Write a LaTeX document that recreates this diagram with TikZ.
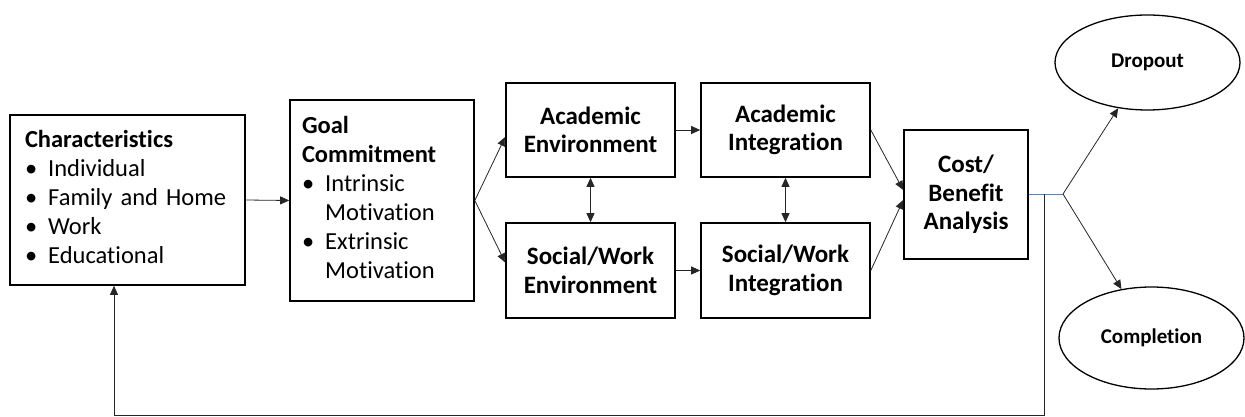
\documentclass[tikz,border=0pt]{standalone}
\usepackage{fontspec}
\setmainfont{Carlito}[Ligatures=NoCommon]
\usetikzlibrary{shapes.geometric,arrows.meta}
\begin{document}
\begin{tikzpicture}[x=1pt,y=-1pt,
  box/.style={draw, line width=1.6pt, inner sep=0pt, align=center,
    font=\fontsize{25}{28.5}\selectfont\bfseries},
  listbox/.style={draw, line width=1.6pt, inner ysep=0pt, align=left,
    font=\fontsize{24.5}{29}\selectfont},
  oval/.style={draw, ellipse, line width=1.3pt, inner sep=0pt,
    font=\fontsize{21}{23}\selectfont\bfseries},
  conn/.style={line width=0.8pt, draw=black!85},
  arr/.style={conn, -{Triangle[length=9pt,width=8pt]}},
  darr/.style={conn, {Triangle[length=9pt,width=8pt]}-{Triangle[length=9pt,width=8pt]}}
]
\useasboundingbox (0,0) rectangle (1245,417);

\node[listbox, minimum width=235pt, minimum height=170pt, text width=205pt, inner xsep=15pt] (char) at (127.5,200)
{\begin{tabular}{@{}l@{\hspace{11pt}}l@{}}
\multicolumn{2}{@{}l@{}}{\textbf{Characteristics}}\\
\textbullet & Individual\\
\textbullet & Family and Home\\
\textbullet & Work\\
\textbullet & Educational
\end{tabular}};

\node[listbox, minimum width=184pt, minimum height=201pt, text width=160pt, inner xsep=12pt] (goal) at (382,200.5)
{\begin{tabular}{@{}l@{\hspace{11pt}}l@{}}
\multicolumn{2}{@{}l@{}}{\textbf{Goal}}\\
\multicolumn{2}{@{}l@{}}{\textbf{Commitment}}\\
\textbullet & Intrinsic\\
 & Motivation\\
\textbullet & Extrinsic\\
 & Motivation
\end{tabular}};

\node[box, minimum width=169pt, minimum height=94pt] (ae) at (590.5,130) {Academic\\Environment};
\node[box, minimum width=169pt, minimum height=94pt] (ai) at (785.5,130) {Academic\\Integration};
\node[box, minimum width=169pt, minimum height=95pt] (swe) at (590.5,270.5) {Social/Work\\Environment};
\node[box, minimum width=169pt, minimum height=95pt] (swi) at (785.5,270.5) {Social/Work\\Integration};
\node[box, minimum width=124pt, minimum height=129pt] (cb) at (966,194.5) {Cost/\\Benefit\\Analysis};

\node[oval, minimum width=185pt, minimum height=95pt] (drop) at (1147.5,62.5) {Dropout};
\node[oval, minimum width=185pt, minimum height=102pt] (comp) at (1151.5,338) {Completion};

\coordinate (fork) at (1063,194);
\coordinate (fb) at (1044,194);
\coordinate (fbb) at (1044,415);
\coordinate (fbl) at (114,415);

\draw[arr] (char.east) -- (goal.west);
\draw[arr] (goal.east) -- ([yshift=-7pt]ae.west);
\draw[arr] (goal.east) -- ([yshift=8pt]swe.west);
\draw[arr] (ae.east) -- (ai.west);
\draw[arr] (swe.east) -- (swi.west);
\draw[darr] (ae.south) -- (swe.north);
\draw[darr] (ai.south) -- (swi.north);
\draw[arr] (ai.east) -- ([yshift=4.5pt]cb.west);
\draw[arr] (swi.east) -- ([yshift=-5.5pt]cb.west);
\draw[line width=0.8pt, draw=blue!55!cyan!70!black!70] (cb.east |- fork) -- (fork);
\draw[arr] (fork) -- (drop);
\draw[arr] (fork) -- (comp);
\draw[arr] (fb) -- (fbb) -- (fbl) -- (fbl |- char.south);
\end{tikzpicture}
\end{document}
